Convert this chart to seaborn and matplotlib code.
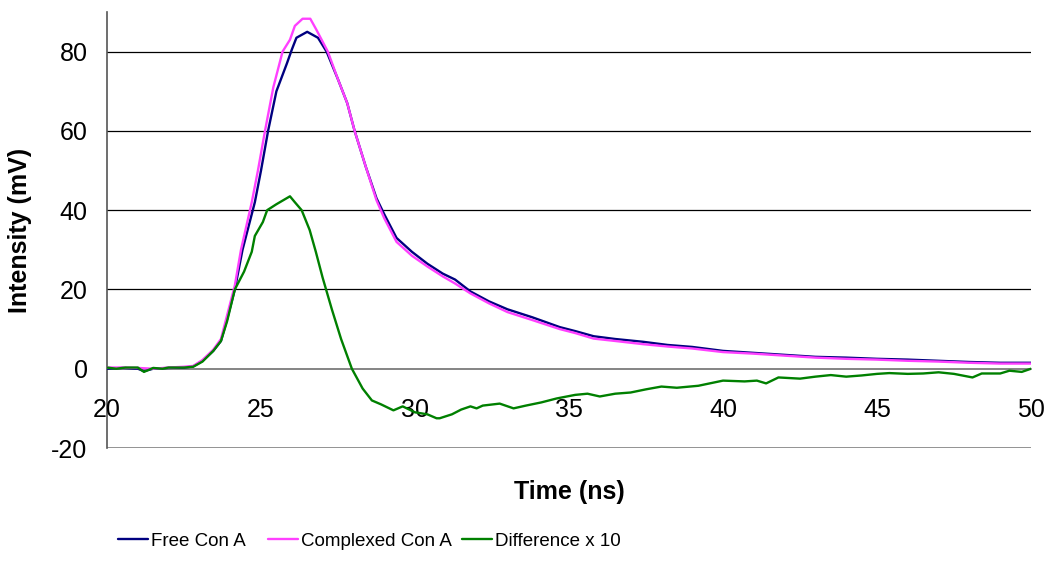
import matplotlib
matplotlib.use("Agg")
import matplotlib.pyplot as plt
import seaborn as sns
import pandas as pd
from matplotlib.lines import Line2D

# values
free_t = [20.0, 20.5, 21.0, 21.2, 21.5, 22.0, 22.5, 22.8, 23.1, 23.45, 23.7, 23.9,
          24.15, 24.4, 24.8, 25.0, 25.23, 25.5, 25.84, 26.0, 26.15, 26.5, 26.85,
          27.13, 27.5, 27.8, 28.04, 28.4, 28.75, 29.0, 29.4, 29.9, 30.4, 30.9,
          31.3, 31.8, 32.4, 33.0, 33.8, 34.7, 35.2, 35.8, 36.5, 37.4, 38.2, 39.0,
          40, 41, 42, 43, 44, 45, 46, 47, 48, 49, 50]
free_v = [0.0, 0.2, 0.0, -0.6, 0.0, 0.2, 0.3, 0.6, 2.0, 4.5, 7.0, 12.5,
          20, 30, 42, 50, 60, 70, 77, 80.5, 83.5, 85, 83.5,
          80, 73, 67, 60, 51, 43, 39, 33, 29.5, 26.5, 24,
          22.5, 19.5, 17, 15, 13, 10.5, 9.5, 8.2, 7.5, 6.8, 6, 5.5,
          4.5, 4.0, 3.5, 3.0, 2.8, 2.5, 2.3, 2.0, 1.7, 1.5, 1.5]

comp_t = [20.0, 20.5, 21.0, 21.5, 22.0, 22.5, 22.8, 23.1, 23.45, 23.7, 23.9, 24.15,
          24.35, 24.7, 24.9, 25.13, 25.4, 25.7, 25.94, 26.1, 26.35, 26.6, 26.8,
          27.17, 27.5, 27.8, 28.04, 28.4, 28.75, 29.0, 29.4, 29.9, 30.4, 30.9,
          31.3, 31.8, 32.4, 33.0, 33.8, 34.7, 35.2, 35.8, 36.5, 37.4, 38.2, 39.0,
          40, 41, 42, 43, 44, 45, 46, 47, 48, 49, 50]
comp_v = [0.3, 0.3, 0.2, 0.0, 0.3, 0.5, 0.7, 2.2, 4.8, 7.5, 13.5, 21,
          30, 42, 50, 60, 71, 80, 83, 86.5, 88.3, 88.3, 85.5,
          80, 73, 67, 60, 51, 42.5, 38, 32, 28.5, 25.8, 23.3,
          21.5, 19, 16.5, 14.3, 12.3, 10, 9, 7.6, 7, 6.2, 5.6, 5.1,
          4.2, 3.8, 3.3, 2.8, 2.5, 2.3, 2.0, 1.8, 1.5, 1.3, 1.3]

diff_t = [20.0, 20.3, 20.6, 21.0, 21.2, 21.5, 21.8, 22.0, 22.5, 22.8, 23.1, 23.45,
          23.7, 23.9, 24.15, 24.45, 24.7, 24.8, 25.06, 25.2, 25.5, 25.94, 26.1,
          26.32, 26.58, 26.78, 27.0, 27.3, 27.6, 27.95, 28.3, 28.6, 28.9, 29.3,
          29.6, 30.0, 30.4, 30.7, 30.8, 31.2, 31.5, 31.8, 32.0, 32.2, 32.75,
          33.2, 33.6, 34.1, 34.6, 35.2, 35.6, 36.0, 36.5, 37.0, 37.5, 38.0,
          38.5, 39.2, 40.0, 40.7, 41.1, 41.4, 41.8, 42.5, 43.0, 43.5, 44.0,
          44.5, 45.0, 45.4, 46.0, 46.5, 47.0, 47.5, 48.1, 48.4, 49.0, 49.3,
          49.7, 50.0]
diff_v = [0.3, 0.0, 0.3, 0.3, -0.8, 0.2, 0.0, 0.3, 0.3, 0.5, 1.8, 4.5,
          7, 12, 20, 24.5, 29.5, 33.5, 37, 40, 41.5, 43.5, 42,
          40, 35, 29.5, 23, 15, 7.5, 0, -5, -8, -9, -10.5,
          -9.5, -11, -11.5, -12.5, -12.5, -11.5, -10.3, -9.5, -10, -9.3, -8.8,
          -10, -9.3, -8.5, -7.5, -6.6, -6.3, -7, -6.3, -6.0, -5.2, -4.5,
          -4.8, -4.3, -3.0, -3.2, -3.0, -3.7, -2.2, -2.5, -2.0, -1.6, -2.0,
          -1.7, -1.3, -1.1, -1.3, -1.2, -0.9, -1.3, -2.2, -1.2, -1.2, -0.5,
          -0.8, 0.0]

series_names = ["Free Con A", "Complexed Con A", "Difference x 10"]
colors = ["#000080", "#FF40FF", "#008000"]
x_ticks = [20, 25, 30, 35, 40, 45, 50]
y_ticks = [-20, 0, 20, 40, 60, 80]
grid_vals = [20, 40, 60, 80]

df = pd.concat([
    pd.DataFrame({"t": free_t, "v": free_v, "series": series_names[0]}),
    pd.DataFrame({"t": comp_t, "v": comp_v, "series": series_names[1]}),
    pd.DataFrame({"t": diff_t, "v": diff_v, "series": series_names[2]}),
])

sns.set_style("white")
plt.rcParams["font.family"] = ["Liberation Sans", "DejaVu Sans"]
plt.rcParams["text.color"] = "black"
plt.rcParams["axes.labelcolor"] = "black"
plt.rcParams["xtick.color"] = "black"
plt.rcParams["ytick.color"] = "black"
plt.rcParams["axes.unicode_minus"] = False

fig = plt.figure(figsize=(10.47, 5.71), dpi=100)
ax = fig.add_axes([107 / 1047, 1 - 448 / 571, 924 / 1047, 436 / 571])

for g in grid_vals:
    ax.axhline(g, color="black", lw=0.9, zorder=1)
ax.axhline(-20, color="#808080", lw=1.2, zorder=1)

sns.lineplot(data=df, x="t", y="v", hue="series", palette=colors,
             hue_order=series_names, sort=False, lw=1.7, ax=ax, legend=False,
             estimator=None, zorder=3)

ax.set_xlim(20, 50)
ax.set_ylim(-20, 90)
ax.set_xticks(x_ticks)
ax.set_yticks(y_ticks)
ax.set_axisbelow(False)

for s in ["top", "right"]:
    ax.spines[s].set_visible(False)
ax.spines["bottom"].set_position(("data", 0))
ax.spines["bottom"].set_color("#707070")
ax.spines["bottom"].set_linewidth(1.2)
ax.spines["left"].set_color("#555555")
ax.spines["left"].set_linewidth(1.2)

ax.tick_params(axis="x", direction="out", length=5, width=1, color="#333333",
               labelsize=18, pad=16)
ax.tick_params(axis="y", direction="out", length=6, width=1, color="#333333",
               labelsize=18, pad=8)

ax.set_xlabel("Time (ns)", fontsize=18, fontweight="bold")
ax.set_ylabel("Intensity (mV)", fontsize=18, fontweight="bold")
ax.xaxis.label.set_va("center")
ax.xaxis.set_label_coords(0.5, -0.101)
ax.yaxis.label.set_va("center")
ax.yaxis.set_label_coords(-0.094, 0.5)

# legend entries placed one by one, like the spreadsheet legend
entry_x = [118, 268, 462]
for name, col, x0 in zip(series_names, colors, entry_x):
    h = Line2D([], [], color=col, lw=1.7)
    fig.legend([h], [name], loc="center left",
               bbox_to_anchor=(x0 / 1047, 1 - 541 / 571), frameon=False,
               handlelength=1.6, handletextpad=0.15,
               borderpad=0, borderaxespad=0,
               prop={"family": ["Liberation Sans"], "size": 13.5})

fig.savefig("out.png", dpi=100)
